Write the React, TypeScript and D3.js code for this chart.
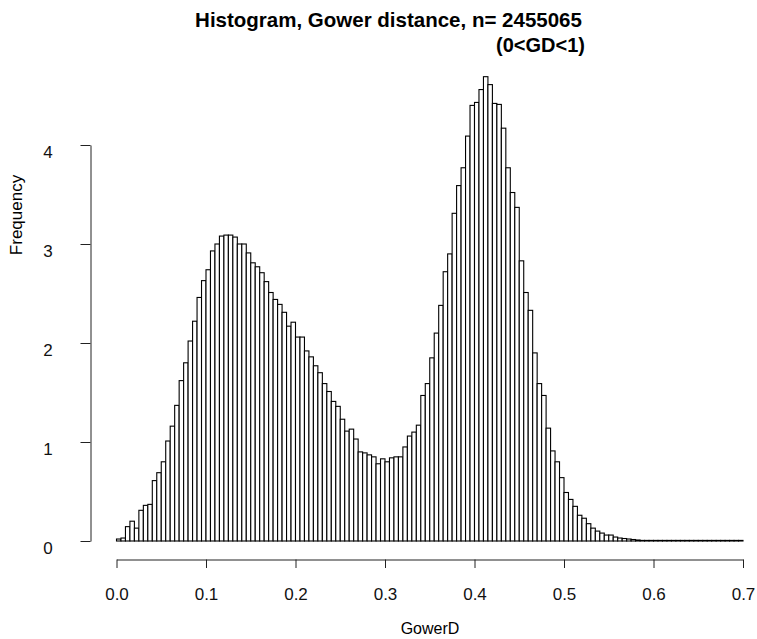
import React, { useRef, useEffect } from 'react';
import * as d3 from 'd3';

// histogram bins all have width 0.005 and start at 0
const binWidth = 0.005;
// frequency of each bin
const frequency = [
  0.02, 0.03, 0.145, 0.2, 0.13, 0.31, 0.36, 0.37, 0.61, 0.69,
  0.80, 1.01, 1.16, 1.37, 1.62, 1.80, 2.02, 2.22, 2.46, 2.63,
  2.74, 2.93, 3.00, 3.08, 3.09, 3.09, 3.07, 3.00, 3.00, 2.91,
  2.81, 2.77, 2.71, 2.62, 2.51, 2.44, 2.39, 2.31, 2.17, 2.21,
  2.06, 2.06, 1.92, 1.86, 1.77, 1.70, 1.59, 1.51, 1.41, 1.36,
  1.23, 1.11, 1.13, 1.03, 0.90, 0.89, 0.87, 0.85, 0.78, 0.83,
  0.80, 0.84, 0.85, 0.85, 0.95, 1.06, 1.10, 1.17, 1.47, 1.59,
  1.85, 2.10, 2.38, 2.72, 2.90, 3.31, 3.59, 3.77, 4.09, 4.40,
  4.43, 4.56, 4.69, 4.61, 4.42, 4.41, 4.17, 3.77, 3.52, 3.37,
  2.83, 2.51, 2.33, 1.90, 1.59, 1.47, 1.14, 0.91, 0.80, 0.64,
  0.49, 0.42, 0.35, 0.26, 0.23, 0.175, 0.13, 0.10, 0.08, 0.06,
  0.06, 0.04, 0.03, 0.025, 0.02, 0.015, 0.01, 0.006, 0.006, 0.006,
  0.006, 0.006, 0.006, 0.006, 0.006, 0.006, 0.006, 0.006, 0.006, 0.006,
  0.006, 0.006, 0.006, 0.006, 0.006, 0.006, 0.006, 0.006, 0.006, 0.006
];
const xTicks = [0, 0.1, 0.2, 0.3, 0.4, 0.5, 0.6, 0.7];
const yTicks = [0, 1, 2, 3, 4];
const title = 'Histogram, Gower distance, n= 2455065';
const subtitle = '(0<GD<1)';
const xLabel = 'GowerD';
const yLabel = 'Frequency';

const font = '"Liberation Sans", Arial, Helvetica, sans-serif';

export default function App() {
  const ref = useRef<SVGSVGElement>(null);

  useEffect(() => {
    const svg = d3.select(ref.current);
    svg.selectAll('*').remove();

    const x = d3.scaleLinear().domain([0, 0.7]).range([116.5, 743]);
    const y = d3.scaleLinear().domain([0, 4]).range([541, 145]);

    // bars
    svg.append('g')
      .selectAll('rect')
      .data(frequency)
      .enter().append('rect')
        .attr('x', (d, i) => x(i * binWidth))
        .attr('y', d => y(d))
        .attr('width', x(binWidth) - x(0))
        .attr('height', d => y(0) - y(d))
        .attr('fill', '#fff')
        .attr('stroke', '#000')
        .attr('stroke-width', 1.1);

    // x axis (R style: line from first to last tick)
    const gx = svg.append('g')
      .attr('transform', 'translate(0,559.5)')
      .call(d3.axisBottom(x).tickValues(xTicks).tickSize(8.5).tickSizeOuter(0)
        .tickPadding(20).tickFormat(d3.format('.1f')));
    gx.select('.domain').attr('stroke', '#222');
    gx.selectAll('line').attr('stroke', '#222');
    gx.selectAll('text').attr('font-family', font).attr('font-size', 17).attr('fill', '#111');

    // y axis
    const gy = svg.append('g')
      .attr('transform', 'translate(90.5,0)')
      .call(d3.axisLeft(y).tickValues(yTicks).tickSize(10).tickSizeOuter(0)
        .tickFormat(d3.format('d')));
    gy.select('.domain').attr('stroke', '#222');
    gy.selectAll('line').attr('stroke', '#222');
    gy.selectAll('text')
      .attr('font-family', font).attr('font-size', 17).attr('fill', '#111')
      .attr('text-anchor', 'middle').attr('x', -42.5).attr('y', 7);

    // titles
    svg.append('text')
      .attr('x', 388.5).attr('y', 27)
      .attr('text-anchor', 'middle')
      .attr('font-family', font).attr('font-size', 20.5).attr('font-weight', 'bold')
      .text(title);
    svg.append('text')
      .attr('x', 585).attr('y', 52)
      .attr('text-anchor', 'end')
      .attr('font-family', font).attr('font-size', 20).attr('font-weight', 'bold')
      .text(subtitle);

    svg.append('text')
      .attr('x', 430).attr('y', 634)
      .attr('text-anchor', 'middle')
      .attr('font-family', font).attr('font-size', 16)
      .text(xLabel);
    svg.append('text')
      .attr('transform', 'translate(22,215) rotate(-90)')
      .attr('text-anchor', 'middle')
      .attr('font-family', font).attr('font-size', 17)
      .text(yLabel);
  }, []);

  return (
    <svg ref={ref} width={757} height={639}
      style={{ position: 'absolute', left: 0, top: 0, background: '#fff' }} />
  );
}
